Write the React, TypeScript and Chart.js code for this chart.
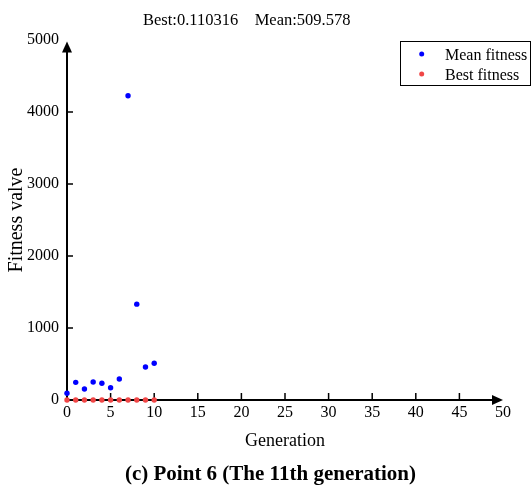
import React, { useEffect, useRef } from "react";
import { Chart, registerables } from "chart.js";

Chart.register(...registerables);

const GENERATIONS = [0, 1, 2, 3, 4, 5, 6, 7, 8, 9, 10];
const MEAN_FITNESS = [93, 245, 153, 250, 232, 171, 291, 4226, 1331, 458, 509.578];
const BEST_FITNESS = [0.9, 0.8, 0.6, 0.5, 0.4, 0.3, 0.25, 0.2, 0.15, 0.12, 0.110316];
const SERIES_LABELS = ["Mean fitness", "Best fitness"];
const X_TICKS = [0, 5, 10, 15, 20, 25, 30, 35, 40, 45, 50];
const Y_TICKS = [0, 1000, 2000, 3000, 4000, 5000];
const X_TITLE = "Generation";
const Y_TITLE = "Fitness valve";
const CAPTION = "(c) Point 6 (The 11th generation)";
const HEADER = `Best:${BEST_FITNESS[BEST_FITNESS.length - 1]}    Mean:${MEAN_FITNESS[MEAN_FITNESS.length - 1]}`;

const SERIF = "'Liberation Serif', 'Times New Roman', serif";
const BLUE = "#0000ff";
const RED = "rgb(240,70,70)";

const decorPlugin = {
  id: "decor",
  beforeDatasetsDraw(chart: any) {
    const { ctx, scales } = chart;
    const xs = scales.x;
    const ys = scales.y;
    const x0 = xs.getPixelForValue(X_TICKS[0]);
    const y0 = ys.getPixelForValue(Y_TICKS[0]);
    const xEnd = xs.getPixelForValue(X_TICKS[X_TICKS.length - 1]);
    const yTop = ys.getPixelForValue(Y_TICKS[Y_TICKS.length - 1]) + 1.5;
    ctx.save();
    ctx.strokeStyle = "#000";
    ctx.fillStyle = "#000";
    ctx.lineWidth = 2;
    ctx.beginPath();
    ctx.moveTo(x0, y0);
    ctx.lineTo(xEnd - 8, y0);
    ctx.moveTo(x0, y0);
    ctx.lineTo(x0, yTop + 8);
    ctx.stroke();
    ctx.beginPath();
    ctx.moveTo(xEnd, y0);
    ctx.lineTo(xEnd - 11, y0 - 5);
    ctx.lineTo(xEnd - 11, y0 + 5);
    ctx.closePath();
    ctx.fill();
    ctx.beginPath();
    ctx.moveTo(x0, yTop);
    ctx.lineTo(x0 - 5, yTop + 11);
    ctx.lineTo(x0 + 5, yTop + 11);
    ctx.closePath();
    ctx.fill();
    ctx.lineWidth = 1.5;
    ctx.beginPath();
    for (let i = 1; i < X_TICKS.length - 1; i++) {
      const px = xs.getPixelForValue(X_TICKS[i]);
      ctx.moveTo(px, y0);
      ctx.lineTo(px, y0 - 7);
    }
    for (let i = 1; i < Y_TICKS.length - 1; i++) {
      const py = ys.getPixelForValue(Y_TICKS[i]);
      ctx.moveTo(x0, py);
      ctx.lineTo(x0 + 6, py);
    }
    ctx.stroke();
    ctx.restore();
  },
  afterDraw(chart: any) {
    const { ctx, data } = chart;
    ctx.save();
    ctx.fillStyle = "#000";
    ctx.font = `16.5px ${SERIF}`;
    ctx.textAlign = "center";
    ctx.textBaseline = "alphabetic";
    ctx.fillText(HEADER, 246.7, 25);
    ctx.font = `bold 21px ${SERIF}`;
    ctx.fillText(CAPTION, 270.5, 480);
    ctx.strokeStyle = "#000";
    ctx.lineWidth = 1;
    ctx.strokeRect(400.5, 41.5, 130, 44);
    ctx.font = `16px ${SERIF}`;
    ctx.textAlign = "left";
    data.datasets.forEach((ds: any, i: number) => {
      const cy = 54 + i * 20;
      ctx.fillStyle = ds.backgroundColor;
      ctx.beginPath();
      ctx.arc(421.7, cy, 2.5, 0, Math.PI * 2);
      ctx.fill();
      ctx.fillStyle = "#000";
      ctx.fillText(ds.label, 445, 60 + i * 20);
    });
    ctx.restore();
  },
};

export default function App() {
  const ref = useRef<HTMLCanvasElement | null>(null);
  useEffect(() => {
    document.body.style.margin = "0";
    const canvas = ref.current;
    if (!canvas) return;
    const chart = new Chart(canvas, {
      type: "scatter",
      data: {
        datasets: [
          {
            label: SERIES_LABELS[0],
            data: GENERATIONS.map((g, i) => ({ x: g, y: MEAN_FITNESS[i] })),
            backgroundColor: BLUE,
            borderColor: BLUE,
            pointRadius: 2.7,
            borderWidth: 0,
            clip: false,
          } as any,
          {
            label: SERIES_LABELS[1],
            data: GENERATIONS.map((g, i) => ({ x: g, y: BEST_FITNESS[i] })),
            backgroundColor: RED,
            borderColor: RED,
            pointRadius: 2.7,
            borderWidth: 0,
            clip: false,
          } as any,
        ],
      },
      options: {
        animation: false,
        responsive: false,
        devicePixelRatio: 1,
        layout: { padding: { left: 0, top: 40, right: 29, bottom: 30 } },
        plugins: {
          legend: { display: false },
          tooltip: { enabled: false },
          title: { display: false },
        },
        scales: {
          x: {
            type: "linear",
            min: X_TICKS[0],
            max: X_TICKS[X_TICKS.length - 1],
            afterBuildTicks: (s: any) => {
              s.ticks = X_TICKS.map((v) => ({ value: v }));
            },
            afterFit: (s: any) => {
              s.height = 57;
            },
            grid: { display: false, drawTicks: false },
            border: { display: false },
            ticks: {
              autoSkip: false,
              maxRotation: 0,
              padding: 3,
              color: "#000",
              font: { family: SERIF, size: 16 },
              callback: (v: any) => String(v),
            },
            title: {
              display: true,
              text: X_TITLE,
              color: "#000",
              font: { family: SERIF, size: 18 },
              padding: { top: 0, bottom: 5 },
            },
          },
          y: {
            type: "linear",
            min: Y_TICKS[0],
            max: Y_TICKS[Y_TICKS.length - 1],
            afterBuildTicks: (s: any) => {
              s.ticks = Y_TICKS.map((v) => ({ value: v }));
            },
            afterFit: (s: any) => {
              s.width = 67;
            },
            grid: { display: false, drawTicks: false },
            border: { display: false },
            ticks: {
              autoSkip: false,
              padding: 8,
              color: "#000",
              font: { family: SERIF, size: 16 },
              callback: (v: any) => String(v),
            },
            title: {
              display: true,
              text: Y_TITLE,
              color: "#000",
              font: { family: SERIF, size: 20 },
              padding: { top: 5, bottom: 0 },
            },
          },
        },
      },
      plugins: [decorPlugin],
    });
    return () => chart.destroy();
  }, []);
  return <canvas ref={ref} width={532} height={487} style={{ display: "block" }} />;
}
